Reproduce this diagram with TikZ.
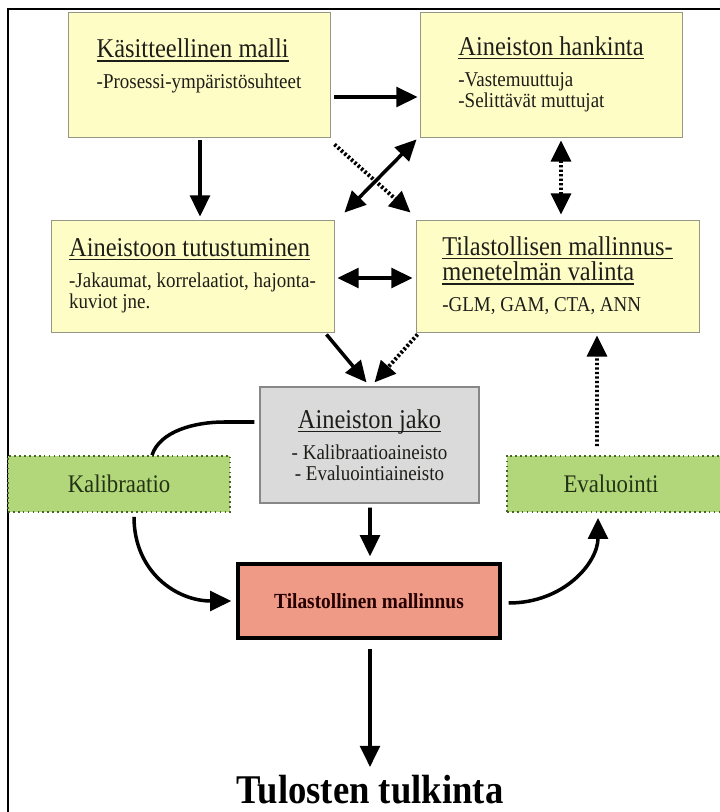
\documentclass[tikz,border=0pt]{standalone}
\usepackage{fontspec}
\setmainfont{Liberation Serif}[FakeStretch=0.9]
\usetikzlibrary{arrows.meta,calc,positioning}
\definecolor{boxyellow}{RGB}{255,253,198}
\definecolor{boxline}{RGB}{150,150,135}
\definecolor{boxgray}{RGB}{218,218,218}
\definecolor{grayline}{RGB}{135,135,135}
\definecolor{boxgreen}{RGB}{178,214,122}
\definecolor{greenline}{RGB}{72,100,40}
\definecolor{boxred}{RGB}{238,154,134}
\definecolor{txt}{RGB}{30,30,25}
\definecolor{greentxt}{RGB}{35,50,20}
\newcommand{\ttlfont}{\fontsize{19.3}{21}\selectfont}
\newcommand{\subfont}{\fontsize{15}{15}\selectfont}
\newsavebox{\ttlbox}
\newcommand{\ttl}[1]{{\ttlfont\sbox{\ttlbox}{#1}\rlap{\rule[-2.6pt]{\wd\ttlbox}{0.9pt}}\usebox{\ttlbox}}}
\tikzset{
  ybox/.style={draw=boxline,fill=boxyellow,line width=0.6pt,align=left,font=\subfont,text=txt,inner sep=0pt},
  graybox/.style={draw=grayline,fill=boxgray,line width=0.8pt,align=center,font=\subfont,text=txt,inner sep=0pt},
  gbox/.style={draw=greenline,fill=boxgreen,line width=1.2pt,dash pattern=on 1.2pt off 2.3pt,font=\fontsize{18}{20}\selectfont,text=greentxt,inner sep=0pt},
  redbox/.style={draw=black,fill=boxred,line width=2.4pt,font=\bfseries\fontsize{15.3}{18}\selectfont,text=black!85!red,inner sep=0pt},
  link/.style={line width=2.5pt},
  dots/.style={line width=2.8pt,dash pattern=on 1.7pt off 1.5pt}
}

\begin{document}
\begin{tikzpicture}[x=0.025cm,y=0.025cm,>={Triangle[length=15pt,width=14pt]}]
  \useasboundingbox (0,0) rectangle (720,812);
  \draw[line width=1.8pt] (8,-20) -- (8,803) -- (740,803);

  \node[ybox,minimum width=6.55cm,minimum height=3.125cm] (kasite) at (199,737.5) {\ttl{Käsitteellinen malli}\\[7pt]-Prosessi-ympäristösuhteet\\~};
  \node[ybox,minimum width=6.55cm,minimum height=3.125cm] (hankinta) at (551,737.5) {\ttl{Aineiston hankinta}\\[7pt]-Vastemuuttuja\\-Selittävät muttujat};
  \node[ybox,minimum width=7.075cm,minimum height=2.8cm] (tutustu) at (192.5,536) {\ttl{Aineistoon tutustuminen}\\[7pt]-Jakaumat, korrelaatiot, hajonta-\\kuviot jne.};
  \node[ybox,minimum width=7.075cm,minimum height=2.8cm] (valinta) at (557.5,536) {\ttl{Tilastollisen mallinnus-}\\[1pt]\ttl{menetelmän valinta}\\[7pt]-GLM, GAM, CTA, ANN};
  \node[graybox,minimum width=5.475cm,minimum height=2.9cm] (jako) at (369.5,367) {\ttl{Aineiston jako}\\[7pt]- Kalibraatioaineisto\\- Evaluointiaineisto};
  \node[gbox,minimum width=5.55cm,minimum height=1.4cm] (kalib) at (119,328) {Kalibraatio};
  \node[gbox,minimum width=5.7cm,minimum height=1.4cm] (evalu) at (621,328) {Evaluointi\hspace*{0.5cm}};
  \node[redbox,minimum width=6.55cm,minimum height=1.85cm] (malli) at (369,211) {Tilastollinen mallinnus};
  \node[font=\bfseries\fontsize{29}{32}\selectfont,anchor=base,inner sep=0pt] (tulos) at (370,9) {Tulosten tulkinta};

  \draw[link,->] ($(kasite.east)+(4,-22.5)$) -- ($(hankinta.west)+(-2,-22.5)$);
  \draw[link,->] ($(kasite.south)+(1,-3)$) -- ($(kasite.south |- tutustu.north)+(1,3)$);
  \draw[dots,->] ($(kasite.south east)+(4,-7)$) -- ($(valinta.north west)+(-5,7)$);
  \draw[link,<->] ($(tutustu.north east)+(10,7)$) -- ($(hankinta.south west)+(-3,-2)$);
  \draw[dots,<->] ($(hankinta.south)+(10,-3)$) -- ($(valinta.north)+(3.5,5)$);
  \draw[link,<->] ($(tutustu.east)+(3,-2)$) -- ($(valinta.west)+(-3,-2)$);
  \draw[link,->] ($(tutustu.south east)+(-8,-2)$) -- ($(jako.north)+(-3,4)$);
  \draw[dots,->] ($(valinta.south west)+(2,-2)$) -- ($(jako.north)+(5,4)$);
  \draw[link] ($(jako.west)+(-5,23)$) -- ++(-30,0) .. controls +(-30,0) and ($(kalib.north)+(41,24)$) .. ($(kalib.north)+(33,0)$);
  \draw[link,->] ($(kalib.south)+(15,-4)$) .. controls +(0,-55) and +(-55,0) .. ($(malli.west)+(-5,0)$);
  \draw[link,->] ($(malli.east)+(7,-2)$) .. controls +(55,0) and +(0,-45) .. ($(evalu.south)+(-23,-5)$);
  \draw[dots,->] ($(evalu.north)+(-24,9)$) -- ($(valinta.south)+(39.5,-3)$);
  \draw[link,->] ($(jako.south)+(0.5,-4)$) -- ($(malli.north)+(1,6)$);
  \draw[link,->] ($(malli.south)+(1,-9)$) -- ($(tulos.base)+(0,36)$);
\end{tikzpicture}
\end{document}
